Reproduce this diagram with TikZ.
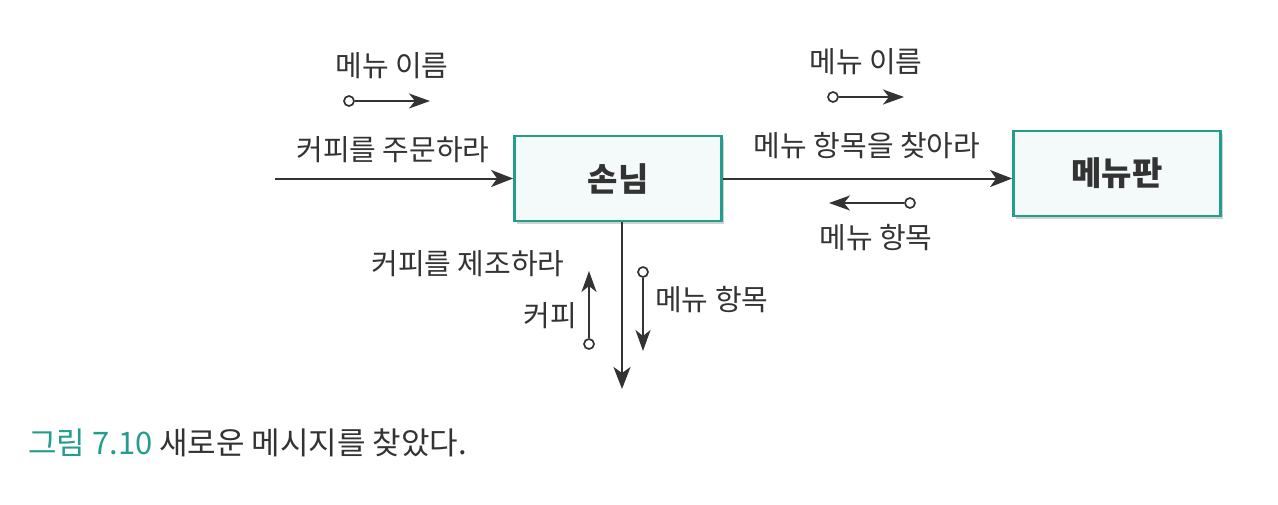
\documentclass[tikz,border=0pt]{standalone}
\usepackage{fontspec}
\setmainfont{Noto Sans CJK KR}
\usetikzlibrary{arrows.meta,shadows}
\definecolor{teal1}{HTML}{239E8C}
\definecolor{boxfill}{HTML}{F3FAF9}
\definecolor{ink}{HTML}{333333}
\begin{document}
\begin{tikzpicture}[x=1pt,y=-1pt,
  box/.style={draw=teal1, line width=2.8pt, fill=boxfill, minimum width=207pt, minimum height=85pt,
    font=\fontsize{33}{38}\selectfont\bfseries, text=ink,
    drop shadow={shadow xshift=2pt, shadow yshift=-3pt, opacity=0.35, fill=gray}},
  conn/.style={draw=ink, line width=2pt, -{Stealth[length=22pt,width=17pt,inset=6pt]}},
  small/.style={draw=ink, line width=2pt, -{Stealth[length=21pt,width=15pt,inset=6pt]}},
  dot/.style={circle, draw=ink, line width=1.7pt, fill=white, minimum size=10pt, inner sep=0pt},
  lbl/.style={text=ink, font=\fontsize{29}{34}\selectfont, inner sep=0pt}]
\useasboundingbox[fill=white] (0,0) rectangle (1278,504);

\node[box] (sn) at (618,178.5) {손님};
\node[box] (mp) at (1117,173.5) {메뉴판};

% input arrow
\coordinate (in) at (275,178.5);
\draw[conn] (in) -- (sn.west);
\node[lbl] (l1) at (393,150) {커피를 주문하라};
\node[lbl] (l2) at (392,66) {메뉴 이름};
\node[dot] (d1) at (349,101) {};
\coordinate (t1) at (430,101);
\draw[small] (d1) -- (t1);

% to menu board
\draw[conn] (sn.east) -- (sn.east -| mp.west);
\node[lbl] (l3) at (867,146) {메뉴 항목을 찾아라};
\node[lbl] (l4) at (866,62) {메뉴 이름};
\node[dot] (d2) at (833,97) {};
\coordinate (t2) at (904,97);
\draw[small] (d2) -- (t2);
\node[dot] (d3) at (910,203) {};
\coordinate (t3) at (829,203);
\draw[small] (d3) -- (t3);
\node[lbl] (l5) at (876,238) {메뉴 항목};

% downward
\coordinate (out) at (622,389);
\draw[conn] (sn.south -| out) -- (out);
\node[lbl] (l6) at (468,264) {커피를 제조하라};
\node[dot] (d4) at (589,344) {};
\coordinate (t4) at (589,271);
\draw[small] (d4) -- (t4);
\node[lbl] (l7) at (550,316) {커피};
\node[dot] (d5) at (643,272) {};
\coordinate (t5) at (643,351);
\draw[small] (d5) -- (t5);
\node[lbl, anchor=west] (l8) at (655,300) {메뉴 항목};

% caption
\node[lbl, anchor=west, font=\fontsize{31}{36}\selectfont] (cap) at (28,443) {\textcolor{teal1}{그림 7.10} 새로운 메시지를 찾았다.};
\end{tikzpicture}
\end{document}
